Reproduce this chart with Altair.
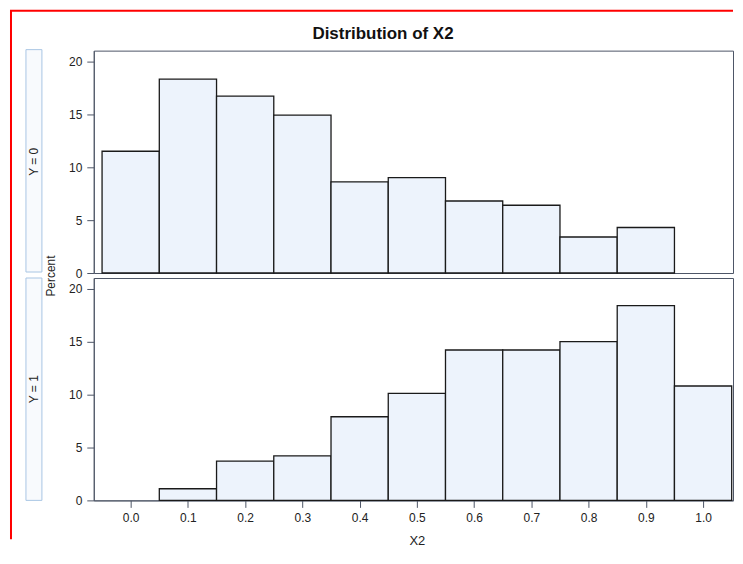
import altair as alt
import pandas as pd

# ---- data ----
bin_mid = [0.0, 0.1, 0.2, 0.3, 0.4, 0.5, 0.6, 0.7, 0.8, 0.9, 1.0]
pct_y0 = [11.5, 18.3, 16.7, 14.9, 8.6, 9.0, 6.8, 6.4, 3.4, 4.3, 0.0]
pct_y1 = [0.0, 1.1, 3.7, 4.2, 7.9, 10.1, 14.2, 14.2, 15.0, 18.4, 10.8]
groups = ["Y = 0", "Y = 1"]
x_ticks = [0.0, 0.1, 0.2, 0.3, 0.4, 0.5, 0.6, 0.7, 0.8, 0.9, 1.0]
y_ticks = [0, 5, 10, 15, 20]
chart_title = "Distribution of X2"
x_title = "X2"
y_title = "Percent"

W, H = 641, 223
X_DOMAIN = [-0.0645, 1.0523]
FONT = "Liberation Sans"
AXIS_COLOR = "#4d5566"
TEXT_COLOR = "#222222"

df = pd.DataFrame({
    "X2": bin_mid + bin_mid,
    "Percent": pct_y0 + pct_y1,
    "Y": [groups[0]] * len(bin_mid) + [groups[1]] * len(bin_mid),
})


def panel(label, bottom):
    base = (
        alt.Chart(df)
        .transform_filter(alt.datum.Y == label)
        .transform_filter(alt.datum.Percent > 0)
        .transform_calculate(lo="datum.X2 - 0.05", hi="datum.X2 + 0.05")
    )
    if bottom:
        xaxis = alt.Axis(values=x_ticks, format=".1f", tickSize=7, labelPadding=5,
                         titlePadding=11, title=x_title, titleFontSize=13, titleX=324)
    else:
        xaxis = None
    if bottom:
        yaxis = alt.Axis(values=y_ticks, tickSize=7, labelPadding=5, title=None)
    else:
        yaxis = alt.Axis(values=y_ticks, tickSize=7, labelPadding=5, title=y_title,
                         titleX=-43, titleY=H + 2.5, titleAngle=270,
                         titleAlign="center", titleBaseline="middle")
    bars = base.mark_bar(fill="#edf3fc", stroke="#1a1a1a", strokeWidth=1.3).encode(
        x=alt.X("lo:Q", scale=alt.Scale(domain=X_DOMAIN, nice=False, zero=False),
                axis=xaxis),
        x2="hi:Q",
        y=alt.Y("Percent:Q", scale=alt.Scale(domain=[0, 21], nice=False), axis=yaxis),
        y2=alt.datum(0),
    )
    lab = alt.Chart(pd.DataFrame({"label": [label]}))
    box = lab.mark_rect(fill="#f8fafd", stroke="#a9c6e4", strokeWidth=1).encode(
        x=alt.value(-68), x2=alt.value(-52), y=alt.value(-1 if not bottom else 0),
        y2=alt.value(H - 1 if not bottom else H),
    )
    txt = lab.mark_text(angle=270, fontSize=12, font=FONT, color=TEXT_COLOR,
                        align="center", baseline="middle").encode(
        x=alt.value(-60), y=alt.value(H / 2), text="label:N"
    )
    layers = [box, txt, bars]
    if not bottom:
        ttl = alt.Chart(pd.DataFrame({"t": [chart_title]})).mark_text(
            fontSize=17, fontWeight="bold", font=FONT, color="#111111",
            align="center", baseline="middle").encode(
            x=alt.value(290), y=alt.value(-17), text="t:N")
        red = alt.Chart(pd.DataFrame({"a": [0]}))
        vline = red.mark_rule(color="#ff0000", strokeWidth=2).encode(
            x=alt.value(-83), y=alt.value(-40), y2=alt.value(490))
        hline = red.mark_rule(color="#ff0000", strokeWidth=2).encode(
            x=alt.value(-84), x2=alt.value(W), y=alt.value(-40))
        layers += [ttl, vline, hline]
    return alt.layer(*layers).properties(width=W, height=H)


chart = (
    alt.vconcat(panel(groups[0], False), panel(groups[1], True), spacing=5, bounds="flush")
    .properties(padding={"left": 0, "top": 0, "right": 0, "bottom": 0})
    .configure_view(stroke=AXIS_COLOR, strokeWidth=1)
    .configure_axis(
        grid=False, domainColor=AXIS_COLOR, tickColor=AXIS_COLOR,
        labelFont=FONT, labelFontSize=12, labelColor=TEXT_COLOR,
        titleFont=FONT, titleFontSize=12, titleFontWeight="normal", titleColor=TEXT_COLOR,
    )
)

chart.save("out.html", embed_options={"renderer": "svg", "actions": False})
